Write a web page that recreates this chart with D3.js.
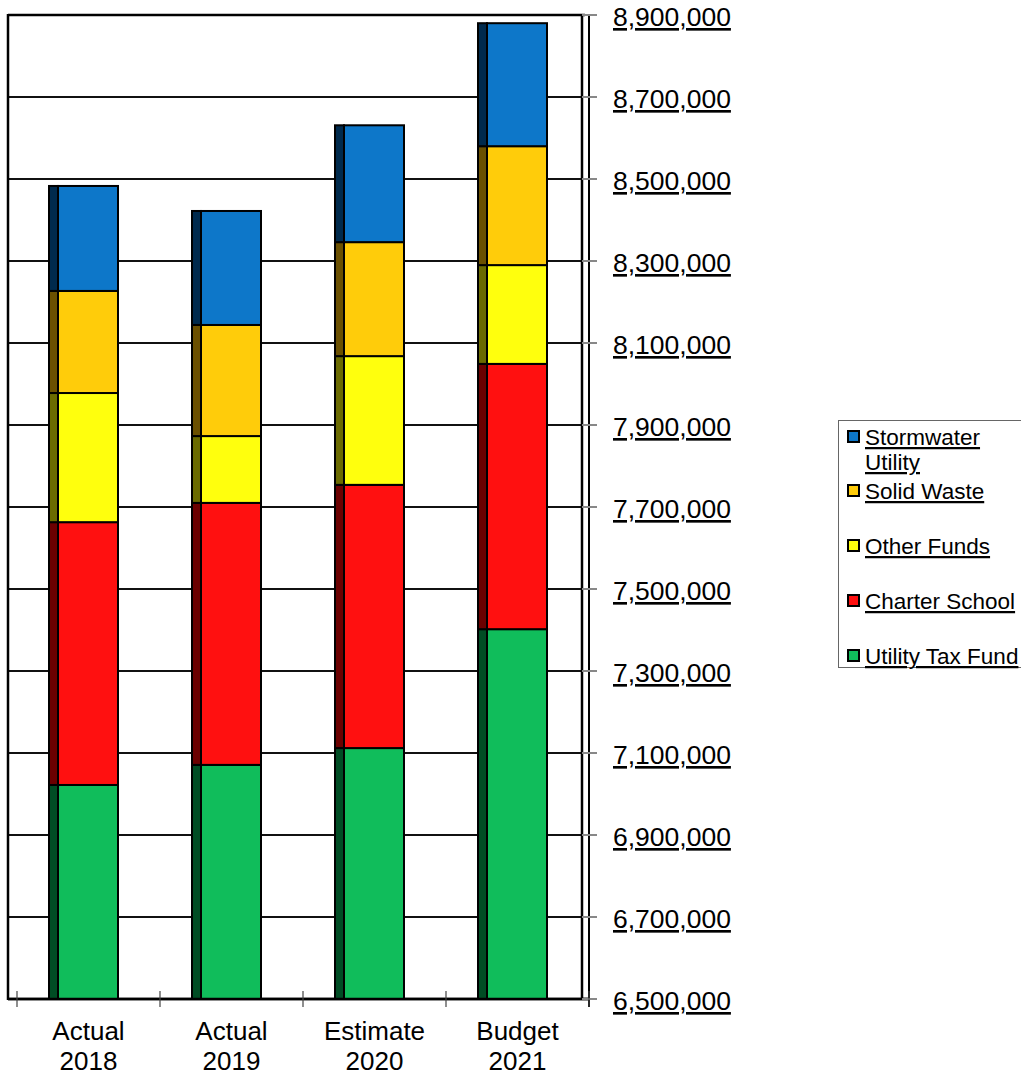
<!DOCTYPE html>
<html>
<head>
<meta charset="utf-8">
<script src="https://cdn.jsdelivr.net/npm/d3@7"></script>
<style>
  html, body { margin: 0; padding: 0; background: #fff; }
  svg { display: block; font-family: Arial, "Liberation Sans", sans-serif; }
</style>
</head>
<body>
<svg id="chart" width="1021" height="1076"></svg>
<script>
const categories = [["Actual", "2018"], ["Actual", "2019"], ["Estimate", "2020"], ["Budget", "2021"]];
const seriesNames = ["Utility Tax Fund", "Charter School", "Other Funds", "Solid Waste", "Stormwater Utility"];
const utilityTaxFund = [7022000, 7071000, 7112000, 7402000];
const charterSchool  = [641000, 639000, 642000, 647000];
const otherFunds     = [315000, 163000, 314000, 241000];
const solidWaste     = [249000, 271000, 278000, 290000];
const stormwater     = [256000, 278000, 285000, 300000];
const yTicks = [6500000, 6700000, 6900000, 7100000, 7300000, 7500000, 7700000, 7900000, 8100000, 8300000, 8500000, 8700000, 8900000];
const frontColors = ["#10bd5b", "#ff1010", "#ffff0d", "#ffcc0a", "#0d77c9"];
const sideColors  = ["#004d24", "#6b0000", "#6b6b00", "#6b5000", "#002a4d"];

const svg = d3.select("#chart");
const L = 8, T = 15, B = 999, R1 = 582, R2 = 589;

const y = d3.scaleLinear().domain([6500000, 8900000]).range([B, T]);
const x = d3.scaleBand().domain(d3.range(categories.length)).range([17, 589]).padding(0);

const rows = categories.map((c, i) => ({
  i,
  s0: utilityTaxFund[i], s1: charterSchool[i], s2: otherFunds[i], s3: solidWaste[i], s4: stormwater[i]
}));
const stack = d3.stack().keys(["s0", "s1", "s2", "s3", "s4"]);
const stacked = stack(rows);

// gridlines
svg.append("g").selectAll("line").data(yTicks).join("line")
  .attr("x1", L).attr("x2", R1).attr("y1", d => y(d)).attr("y2", d => y(d))
  .attr("stroke", "#111").attr("stroke-width", 2);

// plot frame
svg.append("line").attr("x1", L).attr("x2", L).attr("y1", T - 1).attr("y2", B + 1).attr("stroke", "#000").attr("stroke-width", 2.5);
svg.append("line").attr("x1", L).attr("x2", R2).attr("y1", B).attr("y2", B).attr("stroke", "#000").attr("stroke-width", 2.5);
svg.append("line").attr("x1", R1).attr("x2", R1).attr("y1", T).attr("y2", B).attr("stroke", "#000").attr("stroke-width", 2.5);
svg.append("line").attr("x1", R2).attr("x2", R2).attr("y1", T).attr("y2", B + 8).attr("stroke", "#000").attr("stroke-width", 2);

// clip
svg.append("clipPath").attr("id", "pc").append("rect").attr("x", L).attr("y", 0).attr("width", 600).attr("height", B - 0);

const bars = svg.append("g").attr("clip-path", "url(#pc)");
stacked.forEach((layer, k) => {
  const g = bars.append("g");
  g.selectAll("rect.side").data(layer).join("rect")
    .attr("class", "side")
    .attr("x", d => x(d.data.i) + 32).attr("width", 9)
    .attr("y", d => y(d[1])).attr("height", d => Math.max(0, y(k === 0 ? 6400000 : d[0]) - y(d[1])))
    .attr("fill", sideColors[k]).attr("stroke", "#000").attr("stroke-width", 2);
  g.selectAll("rect.front").data(layer).join("rect")
    .attr("class", "front")
    .attr("x", d => x(d.data.i) + 41).attr("width", 60)
    .attr("y", d => y(d[1])).attr("height", d => Math.max(0, y(k === 0 ? 6400000 : d[0]) - y(d[1])))
    .attr("fill", frontColors[k]).attr("stroke", "#000").attr("stroke-width", 2);
});

// redraw bottom/top lines over bars
svg.append("line").attr("x1", L).attr("x2", R2).attr("y1", B).attr("y2", B).attr("stroke", "#000").attr("stroke-width", 2.5);
svg.append("line").attr("x1", L).attr("x2", R2 - 4).attr("y1", T).attr("y2", T).attr("stroke", "#000").attr("stroke-width", 2.5);

// right axis ticks
svg.append("g").selectAll("line").data(yTicks).join("line")
  .attr("x1", R1).attr("x2", 597).attr("y1", d => y(d)).attr("y2", d => y(d))
  .attr("stroke", "#888").attr("stroke-width", 2);

// right axis labels
const fmt = d3.format(",");
svg.append("g").selectAll("text").data(yTicks).join("text")
  .attr("x", 613).attr("y", d => y(d) + 11)
  .attr("font-size", 26.5).attr("fill", "#000")
  .attr("text-decoration", "underline")
  .text(d => fmt(d));

// x ticks
const xTickPos = d3.range(categories.length + 1).map(i => i < categories.length ? x(i) : x(categories.length - 1) + x.bandwidth());
svg.append("g").selectAll("line").data(xTickPos).join("line")
  .attr("x1", d => d).attr("x2", d => d).attr("y1", B - 8).attr("y2", B + 8)
  .attr("stroke", "#444").attr("stroke-width", 1.2);

// x labels
const xl = svg.append("g").selectAll("text").data(categories).join("text")
  .attr("text-anchor", "middle").attr("font-size", 26).attr("fill", "#000");
xl.append("tspan").attr("x", (d, i) => x(i) + x.bandwidth() / 2).attr("y", 1040).text(d => d[0]);
xl.append("tspan").attr("x", (d, i) => x(i) + x.bandwidth() / 2).attr("y", 1070).text(d => d[1]);

// legend
const lg = svg.append("g");
lg.append("rect").attr("x", 838.5).attr("y", 420.5).attr("width", 190).attr("height", 247)
  .attr("fill", "#fff").attr("stroke", "#666").attr("stroke-width", 1);
const legendItems = [
  { name: ["Stormwater", "Utility"], k: 4, y: 437 },
  { name: ["Solid Waste"], k: 3, y: 491 },
  { name: ["Other Funds"], k: 2, y: 546 },
  { name: ["Charter School"], k: 1, y: 601 },
  { name: ["Utility Tax Fund"], k: 0, y: 656 }
];
legendItems.forEach(it => {
  lg.append("rect").attr("x", 848).attr("y", it.y - 6).attr("width", 11).attr("height", 11)
    .attr("fill", frontColors[it.k]).attr("stroke", "#000").attr("stroke-width", 2);
  it.name.forEach((line, j) => {
    lg.append("text").attr("x", 865).attr("y", it.y + 8 + j * 25)
      .attr("font-size", 22.5).attr("fill", "#000").attr("text-decoration", "underline")
      .text(line);
  });
});
</script>
</body>
</html>
